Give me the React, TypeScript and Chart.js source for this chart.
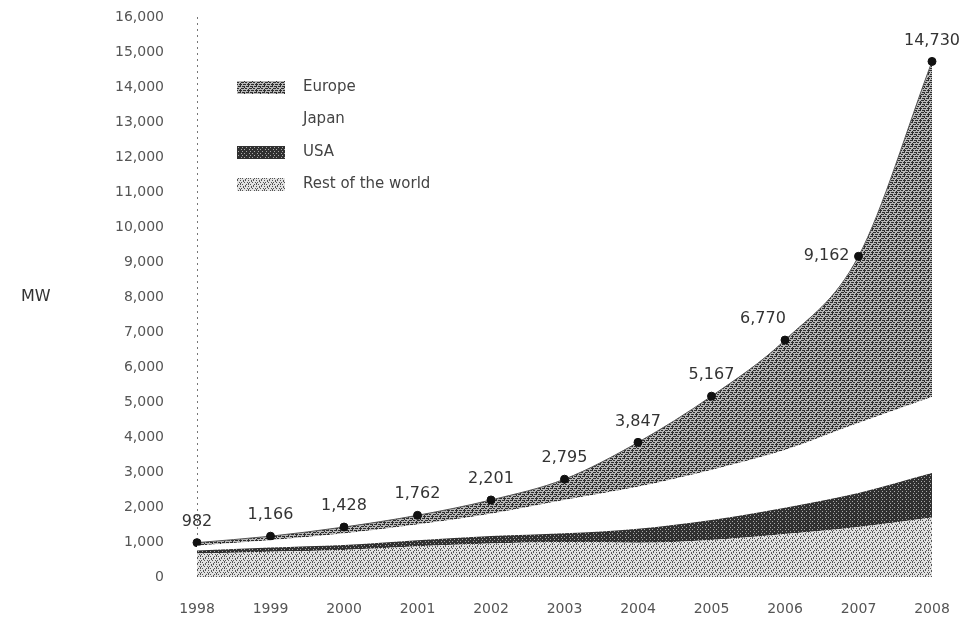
import React, { useEffect, useRef } from "react";
import { Chart, registerables } from "chart.js";

Chart.register(...registerables);

const years = ["1998", "1999", "2000", "2001", "2002", "2003", "2004", "2005", "2006", "2007", "2008"];
const europe = [90, 115, 185, 262, 394, 595, 1267, 2107, 3140, 4762, 9590];
const japan = [133, 209, 330, 453, 637, 950, 1200, 1430, 1650, 2000, 2170];
const usa = [88, 117, 139, 168, 212, 250, 400, 570, 750, 970, 1270];
const restOfWorld = [671, 725, 774, 879, 958, 1000, 980, 1060, 1230, 1430, 1700];
const totalLabels = ["982", "1,166", "1,428", "1,762", "2,201", "2,795", "3,847", "5,167", "6,770", "9,162", "14,730"];
const legendNames = ["Europe", "Japan", "USA", "Rest of the world"];

function makePattern(bg: string, fg: string, rows: string[]): CanvasPattern | string {
  const c = document.createElement("canvas");
  c.width = rows[0].length;
  c.height = rows.length;
  const g = c.getContext("2d");
  if (!g) return bg;
  g.fillStyle = bg;
  g.fillRect(0, 0, c.width, c.height);
  g.fillStyle = fg;
  rows.forEach((r, y) => {
    for (let x = 0; x < r.length; x++) if (r[x] === "#") g.fillRect(x, y, 1, 1);
  });
  const p = g.createPattern(c, "repeat");
  return p || bg;
}

const FONT = "'DejaVu Sans', 'Liberation Sans', Arial, sans-serif";

export default function App() {
  const ref = useRef<HTMLCanvasElement | null>(null);

  useEffect(() => {
    if (!ref.current) return;
    const euroPat = makePattern("#b8b8b8", "#2e2e2e", [
      "##.###.#",
      "#.......",
      "#.###.##",
      "....#...",
      ".###.##.",
      "#.......",
    ]);
    const usaPat = makePattern("#a8a8a8", "#303030", [
      "########",
      "#.##.###",
      "########",
      "##.###.#",
    ]);
    const rowPat = makePattern("#e2e2e2", "#555555", [
      "#..#.#..",
      "...#....",
      ".#..#..#",
      "#.......",
      "#.#...#.",
      ".....#..",
    ]);

    const overlay = {
      id: "overlay",
      beforeDatasetsDraw(chart: any) {
        const ctx = chart.ctx;
        const a = chart.chartArea;
        ctx.save();
        ctx.strokeStyle = "#777";
        ctx.lineWidth = 1;
        ctx.setLineDash([2, 4]);
        ctx.beginPath();
        ctx.moveTo(a.left + 0.5, a.top);
        ctx.lineTo(a.left + 0.5, a.bottom);
        ctx.stroke();
        ctx.restore();
      },
      afterDatasetsDraw(chart: any) {
        const ctx = chart.ctx;
        ctx.save();
        const meta = chart.getDatasetMeta(3);
        ctx.font = `16px ${FONT}`;
        ctx.fillStyle = "#333";
        meta.data.forEach((pt: any, i: number) => {
          if (i === 9) {
            ctx.textAlign = "right";
            ctx.textBaseline = "middle";
            ctx.fillText(totalLabels[i], pt.x - 9, pt.y);
          } else {
            ctx.textAlign = "center";
            ctx.textBaseline = "middle";
            const dx = i === 8 ? -22 : 0;
            ctx.fillText(totalLabels[i], pt.x + dx, pt.y - 21);
          }
        });
        const fills = [euroPat, "#ffffff", usaPat, rowPat];
        const rowsY = [87, 119, 152, 184];
        ctx.font = `15px ${FONT}`;
        ctx.textAlign = "left";
        ctx.textBaseline = "middle";
        legendNames.forEach((name, i) => {
          ctx.fillStyle = fills[i];
          ctx.fillRect(237, rowsY[i] - 6, 48, 13);
          ctx.fillStyle = "#444";
          ctx.fillText(name, 303, rowsY[i]);
        });
        ctx.font = `16px ${FONT}`;
        ctx.fillStyle = "#333";
        ctx.fillText("MW", 21, 297);
        ctx.restore();
      },
    };

    const chart = new Chart(ref.current, {
      type: "line",
      data: {
        labels: years,
        datasets: [
          {
            label: legendNames[3],
            data: restOfWorld,
            backgroundColor: rowPat as any,
            borderWidth: 0,
            pointRadius: 0,
            fill: "origin",
            cubicInterpolationMode: "monotone",
          },
          {
            label: legendNames[2],
            data: usa,
            backgroundColor: usaPat as any,
            borderWidth: 0,
            pointRadius: 0,
            fill: "-1",
            cubicInterpolationMode: "monotone",
          },
          {
            label: legendNames[1],
            data: japan,
            backgroundColor: "#ffffff",
            borderWidth: 0,
            pointRadius: 0,
            fill: "-1",
            cubicInterpolationMode: "monotone",
          },
          {
            label: legendNames[0],
            data: europe,
            backgroundColor: euroPat as any,
            borderColor: "#555",
            borderWidth: 1,
            pointRadius: 4,
            pointBackgroundColor: "#111",
            pointBorderColor: "#111",
            fill: "-1",
            cubicInterpolationMode: "monotone",
          },
        ],
      },
      options: {
        responsive: false,
        animation: false,
        layout: { padding: { top: 17, right: 34, bottom: 0, left: 0 } },
        plugins: {
          legend: { display: false },
          tooltip: { enabled: false },
        },
        scales: {
          x: {
            offset: false,
            grid: { display: false, drawTicks: false },
            border: { display: false },
            ticks: {
              padding: 24,
              autoSkip: false,
              maxRotation: 0,
              color: "#555",
              font: { family: FONT, size: 14 },
            },
            afterFit(scale: any) {
              scale.height = 44;
              scale.paddingLeft = 0;
              scale.paddingRight = 0;
            },
          },
          y: {
            stacked: true,
            min: 0,
            max: 16000,
            grid: { display: false, drawTicks: false },
            border: { display: false },
            ticks: {
              stepSize: 1000,
              padding: 33,
              color: "#555",
              font: { family: FONT, size: 14 },
              callback: (v: any) => Number(v).toLocaleString("en-US"),
            },
            afterFit(scale: any) {
              scale.width = 197;
              scale.paddingTop = 8;
              scale.paddingBottom = 8;
            },
          },
        },
      },
      plugins: [overlay],
    });
    return () => chart.destroy();
  }, []);

  return (
    <div style={{ position: "absolute", left: 0, top: 0, width: 966, height: 621, background: "#fff" }}>
      <canvas ref={ref} width={966} height={621} />
    </div>
  );
}
